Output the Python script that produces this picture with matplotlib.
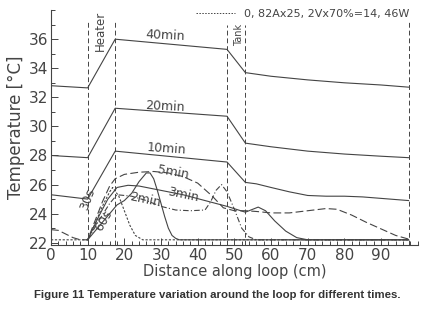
import matplotlib
matplotlib.use("Agg")
import matplotlib.pyplot as plt
from matplotlib.lines import Line2D
from matplotlib.ticker import MultipleLocator

# temperature profiles along the loop (x in cm, T in degC)
x40 = [0, 10, 17.5, 48, 53, 60, 70, 80, 90, 97.5]
t40 = [32.8, 32.65, 36.0, 35.3, 33.7, 33.45, 33.2, 33.0, 32.85, 32.7]

x20 = [0, 10, 17.5, 48, 53, 60, 70, 80, 90, 97.5]
t20 = [28.0, 27.85, 31.25, 30.7, 28.85, 28.6, 28.3, 28.1, 27.95, 27.85]

x10 = [0, 10, 17.5, 48, 53, 56, 60, 65, 70, 75, 80, 85, 90, 97.5]
t10 = [25.3, 25.0, 28.3, 27.55, 26.15, 26.05, 25.8, 25.5, 25.25, 25.2, 25.2, 25.15, 25.05, 24.9]

x5 = [0, 2, 4, 6, 8, 10, 12, 14, 16, 17.5, 20, 24, 28, 32, 36, 40, 44, 47, 50, 53,
      56, 60, 65, 70, 75, 78, 82, 86, 90, 94, 97.5]
t5 = [22.9, 22.85, 22.6, 22.35, 22.2, 22.2, 23.5, 24.8, 25.9, 26.4, 26.7, 26.85, 26.9, 26.8,
      26.55, 26.1, 25.2, 24.4, 24.2, 24.2, 24.15, 24.05, 24.05, 24.2, 24.35, 24.3, 23.9,
      23.4, 22.95, 22.5, 22.25]

x3 = [10, 13, 15.5, 18, 21, 24, 30, 36, 42, 48, 53, 55, 56.5, 58.5, 61, 64, 67, 70, 97.5]
t3 = [22.2, 23.8, 25.0, 25.8, 25.95, 25.9, 25.6, 25.3, 24.9, 24.5, 24.1, 24.3, 24.45, 24.2,
      23.5, 22.8, 22.35, 22.2, 22.2]

x2 = [10, 13, 16, 18, 22, 26, 30, 34, 38, 42, 43.5, 45, 46.5, 48, 50, 52, 54, 56, 97.5]
t2 = [22.2, 23.5, 24.7, 25.3, 25.2, 24.9, 24.5, 24.25, 24.2, 24.25, 24.8, 25.6, 26.0, 25.5,
      24.3, 23.0, 22.4, 22.2, 22.2]

x60 = [10, 12, 14, 16, 18, 20, 22, 24, 26, 27, 28, 29, 30, 31, 32, 33, 34, 35, 37, 97.5]
t60 = [22.2, 22.8, 23.4, 24.0, 24.6, 24.9, 25.4, 26.2, 26.8, 26.8, 26.4, 25.6, 24.7, 23.8,
       23.0, 22.5, 22.3, 22.2, 22.2, 22.2]

x30 = [0, 10, 12, 14, 16, 16.8, 18.5, 20, 21.5, 23, 25, 97.5]
t30 = [22.2, 22.2, 23.3, 24.5, 25.5, 25.8, 25.2, 24.2, 23.2, 22.5, 22.2, 22.2]

walls = [10, 17.5, 48, 53, 97.5]
wall_top = [37.25, 37.25, 37.0, 37.0, 37.25]

c = "#444444"
plt.rcParams["font.family"] = ["DejaVu Sans"]

fig = plt.figure(figsize=(4.34, 3.16), dpi=100)
ax = fig.add_axes([0.1175, 0.225, 0.845, 0.743])

ax.plot(x40, t40, color=c, lw=0.8)
ax.plot(x20, t20, color=c, lw=0.8)
ax.plot(x10, t10, color=c, lw=0.8)
ax.plot(x5, t5, color=c, lw=0.8, dashes=(7, 3))
ax.plot(x3, t3, color=c, lw=0.8)
ax.plot(x2, t2, color=c, lw=0.8, dashes=(5, 2, 1, 2))
ax.plot(x60, t60, color=c, lw=0.8)
ax.plot(x30, t30, color=c, lw=0.8, dashes=(2, 1.5))

for xv, top in zip(walls, wall_top):
    ax.plot([xv, xv], [21.85, top], color=c, lw=0.7, dashes=(5, 3))

tk = dict(color=c, fontsize=9)
ax.text(31.1, 36.25, "40min", rotation=-3, ha="center", va="center", **tk)
ax.text(31.1, 31.4, "20min", rotation=-3, ha="center", va="center", **tk)
ax.text(31.5, 28.45, "10min", rotation=-4, ha="center", va="center", **tk)
ax.text(33.2, 26.85, "5min", rotation=-10, ha="center", va="center", **tk)
ax.text(36.1, 25.3, "3min", rotation=-12, ha="center", va="center", **tk)
ax.text(25.6, 24.95, "2min", rotation=-12, ha="center", va="center", **tk)
ax.text(9.9, 25.0, "30s", rotation=70, ha="center", va="center", **tk)
ax.text(14.4, 23.5, "60s", rotation=60, ha="center", va="center", **tk)
ax.text(13.6, 36.6, "Heater", rotation=90, ha="center", va="center", color=c, fontsize=8.5)
ax.text(51.2, 36.3, "Tank", rotation=90, ha="center", va="center", color=c, fontsize=7)

h = Line2D([], [], color=c, lw=0.7, dashes=(1.5, 1.5))
ax.legend([h], ["0, 82Ax25, 2Vx70%=14, 46W"], loc="upper right", frameon=False,
          fontsize=8, handlelength=3.5, handletextpad=0.8, borderaxespad=0.0,
          bbox_to_anchor=(0.99, 1.025), labelcolor=c)

ax.set_xlim(0, 100)
ax.set_ylim(21.85, 38)
ax.xaxis.set_minor_locator(MultipleLocator(2))
ax.yaxis.set_minor_locator(MultipleLocator(1))
ax.set_xticks(range(0, 100, 10))
ax.set_yticks(range(22, 38, 2))
ax.tick_params(which="both", direction="in", color=c, labelcolor=c, labelsize=11, width=0.7)
ax.tick_params(which="major", length=5, pad=2)
ax.tick_params(which="minor", length=3)
for s in ["top", "right"]:
    ax.spines[s].set_visible(False)
for s in ["left", "bottom"]:
    ax.spines[s].set_color(c)
    ax.spines[s].set_linewidth(0.8)

ax.set_xlabel("Distance along loop (cm)", color=c, fontsize=10.5, labelpad=1)
ax.set_ylabel("Temperature [°C]", color=c, fontsize=12, labelpad=3)

fig.text(0.5, 0.065, "Figure 11 Temperature variation around the loop for different times.",
         ha="center", va="center", fontsize=8.2, fontweight="bold", color="#333333",
         family="Liberation Sans")

fig.savefig("out.png", dpi=100)
